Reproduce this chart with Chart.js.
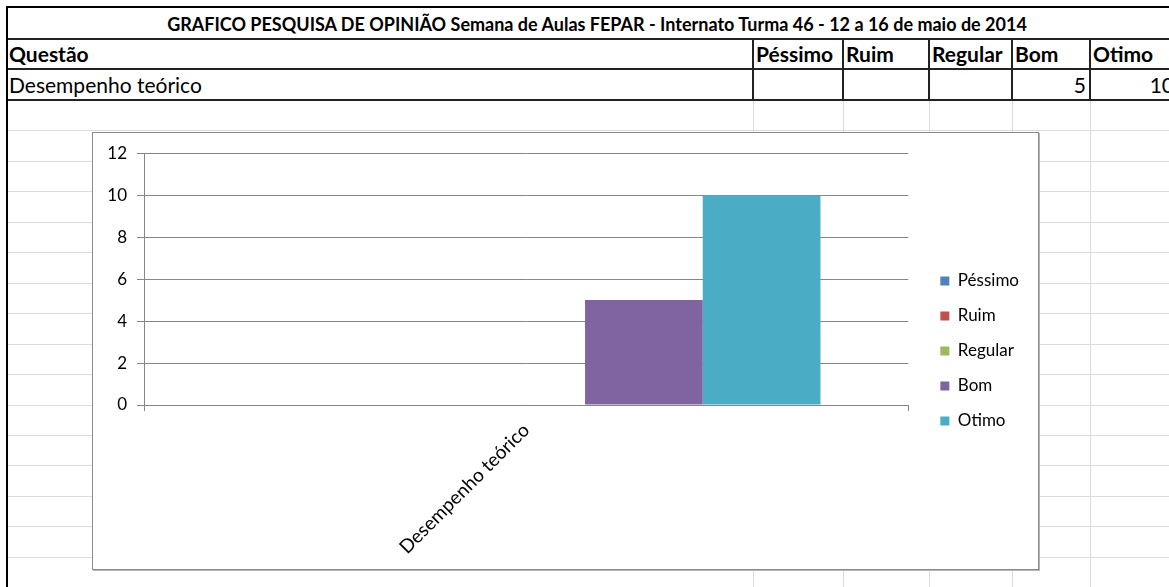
<!DOCTYPE html>
<html>
<head>
<meta charset="utf-8">
<script src="https://cdn.jsdelivr.net/npm/chart.js@4.4.1/dist/chart.umd.min.js"></script>
<style>
    html, body { margin: 0; padding: 0; background: #fff; overflow: hidden; }
    body { width: 1169px; height: 587px; position: relative; font-family: Lato, sans-serif; color: #000; }
    .line { position: absolute; }
    .cell { position: absolute; white-space: nowrap; font-size: 21px; line-height: 30px; }
    .bold { font-weight: bold; }
    #chartBox {
        position: absolute; left: 92px; top: 132px; width: 945px; height: 436px;
        background: #fff; border: 1px solid #8a8a8a; box-shadow: 1px 1px 0 #b5b5b5;
    }
</style>
</head>
<body>
<div id="sheet"></div>
<div id="chartBox"><canvas id="opiniaoChart"></canvas></div>

<script>
const titleText = "GRAFICO PESQUISA DE OPINIÃO Semana de Aulas FEPAR - Internato Turma 46 - 12 a 16 de maio de 2014";
const questionHeader = "Questão";
const questions = ["Desempenho teórico"];
const ratings = ["Péssimo", "Ruim", "Regular", "Bom", "Otimo"];
const pessimoValues = [null];
const ruimValues = [null];
const regularValues = [null];
const bomValues = [5];
const otimoValues = [10];
const yMax = 12;
const yStep = 2;
const ratingColors = ["#4F81BD", "#C0504D", "#9BBB59", "#8064A2", "#4BACC6"];

// spreadsheet behind the chart
const sheet = document.getElementById("sheet");
const colEdges = [8, 753, 843, 929, 1012, 1090, 1178];

function addLine(x, y, w, h, color) {
    const d = document.createElement("div");
    d.className = "line";
    d.style.cssText = `left:${x}px;top:${y}px;width:${w}px;height:${h}px;background:${color}`;
    sheet.appendChild(d);
}

function addText(txt, x, y, opts) {
    const s = document.createElement("div");
    s.className = "cell" + (opts.bold ? " bold" : "");
    s.textContent = txt;
    s.style.top = y + "px";
    if (opts.size) s.style.fontSize = opts.size + "px";
    if (opts.align === "right") {
        s.style.right = (1169 - x) + "px";
    } else if (opts.align === "center") {
        s.style.left = x + "px";
        s.style.transform = "translateX(-50%)";
    } else {
        s.style.left = x + "px";
    }
    sheet.appendChild(s);
}

// light grid rows below the table
for (let k = 1; k < 17; k++) {
    addLine(8, Math.round(100 + 30.45 * k), 1161, 1, "#dcdcdc");
}
for (let i = 1; i < colEdges.length - 1; i++) {
    addLine(colEdges[i], 100, 1, 487, "#dcdcdc");
}

// table borders
addLine(6, 6, 1163, 2, "#000");
addLine(6, 6, 2, 581, "#000");
addLine(8, 38, 1161, 2, "#222");
addLine(8, 68, 1161, 2, "#222");
addLine(8, 99, 1161, 2, "#222");
for (let i = 1; i < colEdges.length - 1; i++) {
    addLine(colEdges[i] - 1, 38, 2, 62, "#222");
}

addText(titleText, 597, 9, { bold: true, align: "center", size: 18 });
addText(questionHeader, 9, 39, { bold: true });
ratings.forEach((r, i) => addText(r, colEdges[i + 1] + 3, 39, { bold: true }));

const allValues = [pessimoValues, ruimValues, regularValues, bomValues, otimoValues];
questions.forEach((q, row) => {
    addText(q, 9, 70 + row * 30, {});
    allValues.forEach((vals, i) => {
        if (vals[row] !== null) addText(String(vals[row]), colEdges[i + 2] - 4, 70 + row * 30, { align: "right" });
    });
});

// chart
const axisGray = "#868686";
const chartFont = { family: "Lato", size: 17 };

const legendShift = {
    id: "legendShift",
    afterLayout(chart) {
        // Excel leaves a wider gap between the plot and the legend
        chart.legend.left += 14;
        chart.legend.right += 14;
    }
};

const datasets = ratings.map((r, i) => ({
    label: r,
    data: allValues[i],
    backgroundColor: ratingColors[i],
    borderWidth: 0,
    categoryPercentage: 0.77,
    barPercentage: 1.0
}));

new Chart(document.getElementById("opiniaoChart"), {
    type: "bar",
    data: { labels: questions, datasets: datasets },
    plugins: [legendShift],
    options: {
        responsive: true,
        maintainAspectRatio: false,
        animation: false,
        layout: { padding: { top: 0, right: 23, bottom: 0, left: 0 } },
        plugins: {
            legend: {
                position: "right",
                labels: { boxWidth: 9, boxHeight: 9, padding: 18, color: "#000", font: chartFont }
            },
            tooltip: { enabled: false }
        },
        scales: {
            x: {
                grid: { offset: true, drawOnChartArea: false, tickLength: 6, color: axisGray },
                border: { color: axisGray },
                ticks: { minRotation: 45, maxRotation: 45, color: "#000", font: { family: "Lato", size: 19 }, padding: 8 },
                afterFit(scale) { scale.height = 164; }
            },
            y: {
                min: 0,
                max: yMax,
                ticks: { stepSize: yStep, color: "#000", font: chartFont, padding: 10 },
                grid: { color: axisGray, tickLength: 7 },
                border: { color: axisGray },
                afterFit(scale) { scale.width = 51; }
            }
        }
    }
});
</script>
</body>
</html>
